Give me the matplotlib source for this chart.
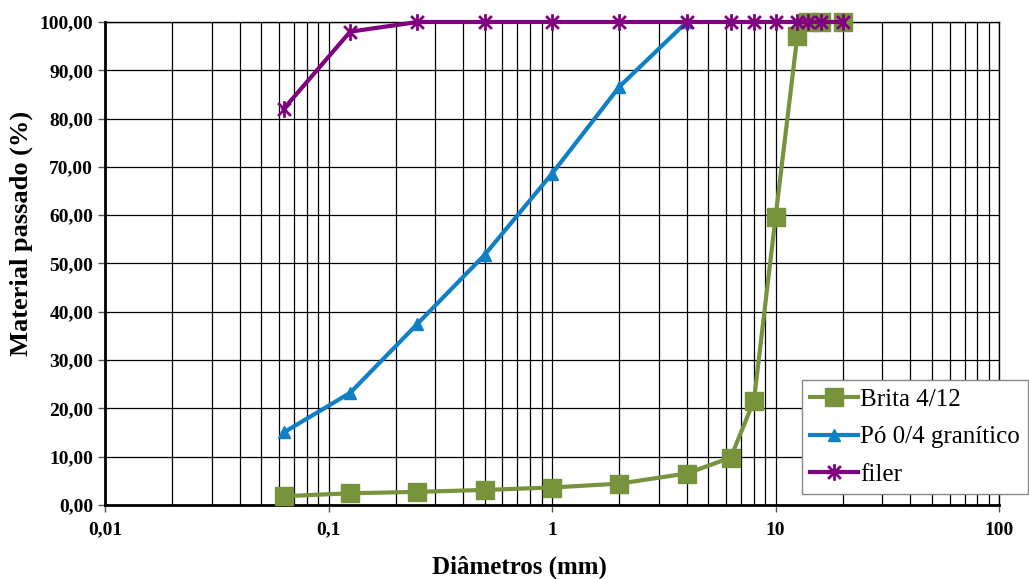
import matplotlib
matplotlib.use('Agg')
import matplotlib.pyplot as plt
from matplotlib.path import Path
from matplotlib.ticker import FixedLocator, FuncFormatter, LogLocator, NullFormatter

# Sieve sizes (mm) and passing percentages
brita_d = [0.063, 0.125, 0.25, 0.5, 1, 2, 4, 6.3, 8, 10, 12.5, 14, 16, 20]
brita_p = [1.8, 2.4, 2.7, 3.1, 3.6, 4.4, 6.5, 9.8, 21.6, 59.7, 97.0, 100, 100, 100]

po_d = [0.063, 0.125, 0.25, 0.5, 1, 2, 4]
po_p = [15.0, 23.2, 37.5, 51.8, 68.6, 86.6, 100]

filer_d = [0.063, 0.125, 0.25, 0.5, 1, 2, 4, 6.3, 8, 10, 12.5, 14, 16, 20]
filer_p = [82.0, 98.0, 100, 100, 100, 100, 100, 100, 100, 100, 100, 100, 100, 100]

x_ticks = [0.01, 0.1, 1, 10, 100]
x_labels = ['0,01', '0,1', '1', '10', '100']


class Colors:
    GREEN = '#77933c'
    BLUE = '#0f7fc6'
    PURPLE = '#800080'


# Excel-like star marker: an X with a vertical bar
star = Path([(-1, -1), (1, 1), (-1, 1), (1, -1), (0, -1.3), (0, 1.3)],
            [Path.MOVETO, Path.LINETO, Path.MOVETO, Path.LINETO, Path.MOVETO, Path.LINETO])

plt.rcParams['font.family'] = ['Liberation Serif', 'DejaVu Serif']

fig = plt.figure(figsize=(10.29, 5.79), dpi=100)
ax = fig.add_axes((0.102, 0.128, 0.869, 0.834))

ax.plot(brita_d, brita_p, color=Colors.GREEN, lw=3, marker='s', ms=13,
        label='Brita 4/12', clip_on=False, zorder=3)
ax.plot(po_d, po_p, color=Colors.BLUE, lw=3, marker='^', ms=9,
        label='Pó 0/4 granítico', clip_on=False, zorder=4)
ax.plot(filer_d, filer_p, color=Colors.PURPLE, lw=3, marker=star, ms=12, mew=2,
        label='filer', clip_on=False, zorder=5)

ax.set_xscale('log')
ax.set_xlim(0.01, 100)
ax.set_ylim(0, 100)

ax.xaxis.set_major_locator(FixedLocator(x_ticks))
ax.xaxis.set_major_formatter(FuncFormatter(lambda v, _: x_labels[x_ticks.index(v)] if v in x_ticks else ''))
ax.xaxis.set_minor_locator(LogLocator(base=10, subs=range(2, 10)))
ax.xaxis.set_minor_formatter(NullFormatter())
ax.set_yticks(range(0, 101, 10))
ax.yaxis.set_major_formatter(FuncFormatter(lambda v, _: f'{v:.2f}'.replace('.', ',')))

ax.grid(True, which='both', axis='x', color='black', lw=0.9)
ax.grid(True, which='major', axis='y', color='black', lw=0.9)
ax.set_axisbelow(True)

ax.tick_params(axis='both', which='major', labelsize=14, length=5, width=1, color='#555555')
ax.tick_params(axis='x', which='major', pad=7)
ax.tick_params(axis='x', which='minor', length=0)
for lab in ax.get_xticklabels() + ax.get_yticklabels():
    lab.set_fontweight('bold')

for side in ['left', 'bottom']:
    ax.spines[side].set_linewidth(2)
for side in ['top', 'right']:
    ax.spines[side].set_linewidth(1)

ax.set_xlabel('Diâmetros (mm)', fontsize=18, fontweight='bold')
ax.set_ylabel('Material passado (%)', fontsize=19, fontweight='bold')
ax.xaxis.set_label_coords(0.464, -0.105)
ax.yaxis.set_label_coords(-0.08, 0.563)

leg = ax.legend(loc='lower right', bbox_to_anchor=(0.999, 0.147),
                bbox_transform=fig.transFigure, fontsize=18, handlelength=1.9,
                handletextpad=0.1, labelspacing=0.6, borderpad=0.32,
                fancybox=False, framealpha=1, edgecolor='#888888', borderaxespad=0)
leg.get_frame().set_linewidth(1)
leg.set_zorder(10)

fig.savefig('out.png', dpi=100)
